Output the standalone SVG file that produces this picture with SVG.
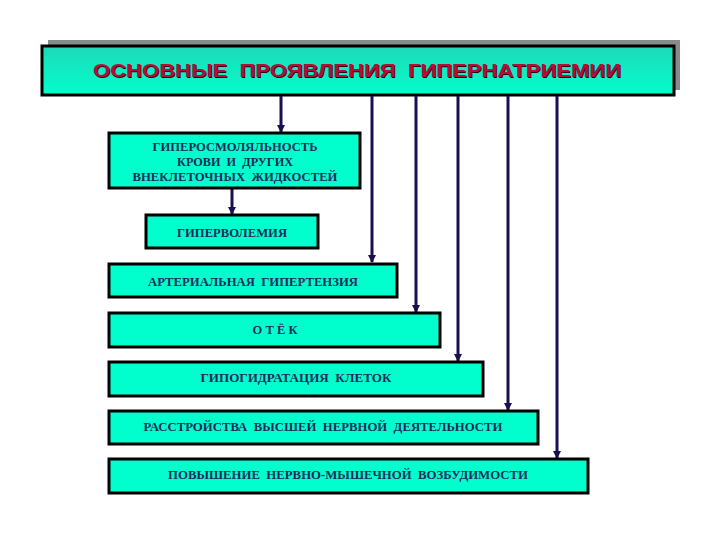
<svg xmlns="http://www.w3.org/2000/svg" width="720" height="540" viewBox="0 0 720 540">
<defs>
<linearGradient id="tg" x1="0" y1="0" x2="0" y2="1">
<stop offset="0" stop-color="#1fd9b8"/>
<stop offset="1" stop-color="#00ffcc"/>
</linearGradient>
<marker id="ah" markerWidth="8" markerHeight="8" refX="7" refY="4" orient="auto" markerUnits="userSpaceOnUse" viewBox="0 0 8 8">
<path d="M0,0 L8,4 L0,8 Z" fill="#1a1050"/>
</marker>
</defs>
<style>
.box{fill:#00ffcc;stroke:#000;stroke-width:3}
.t{font-family:"Liberation Serif","Times New Roman",serif;font-weight:bold;font-size:12.5px;fill:#1a2a5a;text-anchor:middle}
.c{stroke:#1a1050;stroke-width:3;fill:none;marker-end:url(#ah)}
</style>
<rect width="720" height="540" fill="#fff"/>
<g id="title">
<rect x="48" y="40" width="632" height="50" fill="#8a8a8a"/>
<rect x="42" y="46" width="632" height="49" fill="url(#tg)" stroke="#000" stroke-width="3"/>
<text x="358" y="78" font-family="'Liberation Sans',Arial,sans-serif" font-weight="bold" font-size="19" fill="#2a0010" text-anchor="middle" textLength="528" lengthAdjust="spacingAndGlyphs" xml:space="preserve">ОСНОВНЫЕ  ПРОЯВЛЕНИЯ  ГИПЕРНАТРИЕМИИ</text>
<text x="357" y="77" font-family="'Liberation Sans',Arial,sans-serif" font-weight="bold" font-size="19" fill="#b80c38" text-anchor="middle" textLength="528" lengthAdjust="spacingAndGlyphs" xml:space="preserve">ОСНОВНЫЕ  ПРОЯВЛЕНИЯ  ГИПЕРНАТРИЕМИИ</text>
</g>
<g id="connectors">
<line class="c" x1="281" y1="96" x2="281" y2="132"/>
<line class="c" x1="232" y1="189" x2="232" y2="214"/>
<line class="c" x1="372" y1="96" x2="372" y2="262"/>
<line class="c" x1="416" y1="96" x2="416" y2="312"/>
<line class="c" x1="458" y1="96" x2="458" y2="361"/>
<line class="c" x1="508" y1="96" x2="508" y2="410"/>
<line class="c" x1="557" y1="96" x2="557" y2="458"/>
</g>
<g id="n1">
<rect class="box" x="109" y="133" width="251" height="55"/>
<text class="t" x="235" y="151" textLength="165" lengthAdjust="spacingAndGlyphs">ГИПЕРОСМОЛЯЛЬНОСТЬ</text>
<text class="t" x="235" y="166" textLength="116" lengthAdjust="spacingAndGlyphs" xml:space="preserve">КРОВИ  И  ДРУГИХ</text>
<text class="t" x="235" y="181" textLength="205" lengthAdjust="spacingAndGlyphs" xml:space="preserve">ВНЕКЛЕТОЧНЫХ  ЖИДКОСТЕЙ</text>
</g>
<g id="n2">
<rect class="box" x="146" y="215" width="172" height="33"/>
<text class="t" x="232" y="237" textLength="110" lengthAdjust="spacingAndGlyphs">ГИПЕРВОЛЕМИЯ</text>
</g>
<g id="n3">
<rect class="box" x="109" y="264" width="288" height="33"/>
<text class="t" x="253" y="286" textLength="210" lengthAdjust="spacingAndGlyphs" xml:space="preserve">АРТЕРИАЛЬНАЯ  ГИПЕРТЕНЗИЯ</text>
</g>
<g id="n4">
<rect class="box" x="109" y="313" width="331" height="34"/>
<text class="t" x="275" y="334" textLength="45" lengthAdjust="spacing">О Т Ё К</text>
</g>
<g id="n5">
<rect class="box" x="109" y="362" width="374" height="34"/>
<text class="t" x="296" y="382" textLength="191" lengthAdjust="spacingAndGlyphs" xml:space="preserve">ГИПОГИДРАТАЦИЯ  КЛЕТОК</text>
</g>
<g id="n6">
<rect class="box" x="109" y="411" width="429" height="33"/>
<text class="t" x="323" y="431" textLength="359" lengthAdjust="spacingAndGlyphs" xml:space="preserve">РАССТРОЙСТВА  ВЫСШЕЙ  НЕРВНОЙ  ДЕЯТЕЛЬНОСТИ</text>
</g>
<g id="n7">
<rect class="box" x="109" y="459" width="479" height="34"/>
<text class="t" x="348" y="479" textLength="360" lengthAdjust="spacingAndGlyphs" xml:space="preserve">ПОВЫШЕНИЕ  НЕРВНО-МЫШЕЧНОЙ  ВОЗБУДИМОСТИ</text>
</g>
</svg>
